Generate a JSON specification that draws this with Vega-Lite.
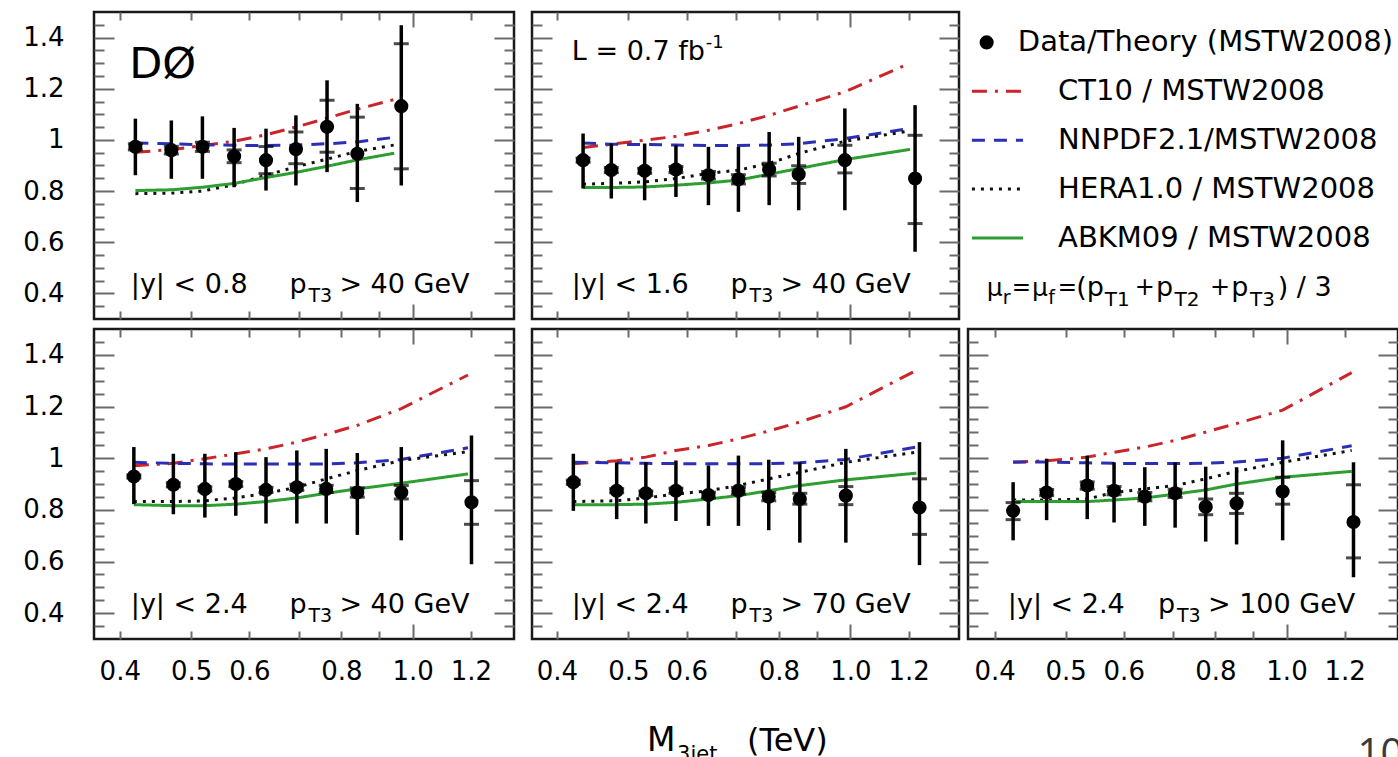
{
  "$schema": "https://vega.github.io/schema/vega-lite/v6.json",
  "background": "white",
  "padding": {"left": 21, "top": 9, "right": 0, "bottom": 0},
  "config": {
    "font": "DejaVu Sans",
    "view": {"stroke": "#1a1a1a", "strokeWidth": 2.5},
    "text": {"font": "DejaVu Sans", "color": "#000"}
  },
  "datasets": {
    "pts": [
      {"panel": 1, "m": 0.420, "r": 0.973, "tlo": 0.862, "thi": 1.083, "slo": 0.961, "shi": 0.985},
      {"panel": 1, "m": 0.470, "r": 0.960, "tlo": 0.848, "thi": 1.076, "slo": 0.945, "shi": 0.975},
      {"panel": 1, "m": 0.518, "r": 0.973, "tlo": 0.848, "thi": 1.092, "slo": 0.955, "shi": 0.991},
      {"panel": 1, "m": 0.572, "r": 0.936, "tlo": 0.815, "thi": 1.047, "slo": 0.911, "shi": 0.961},
      {"panel": 1, "m": 0.632, "r": 0.921, "tlo": 0.802, "thi": 1.044, "slo": 0.868, "shi": 0.974},
      {"panel": 1, "m": 0.694, "r": 0.964, "tlo": 0.822, "thi": 1.096, "slo": 0.907, "shi": 1.031},
      {"panel": 1, "m": 0.765, "r": 1.051, "tlo": 0.874, "thi": 1.233, "slo": 0.952, "shi": 1.155},
      {"panel": 1, "m": 0.841, "r": 0.946, "tlo": 0.757, "thi": 1.141, "slo": 0.810, "shi": 1.089},
      {"panel": 1, "m": 0.965, "r": 1.132, "tlo": 0.822, "thi": 1.448, "slo": 0.887, "shi": 1.376},

      {"panel": 2, "m": 0.434, "r": 0.921, "tlo": 0.810, "thi": 1.025, "slo": 0.913, "shi": 0.929},
      {"panel": 2, "m": 0.474, "r": 0.882, "tlo": 0.771, "thi": 0.986, "slo": 0.872, "shi": 0.892},
      {"panel": 2, "m": 0.526, "r": 0.879, "tlo": 0.764, "thi": 0.986, "slo": 0.869, "shi": 0.889},
      {"panel": 2, "m": 0.580, "r": 0.884, "tlo": 0.777, "thi": 0.979, "slo": 0.872, "shi": 0.896},
      {"panel": 2, "m": 0.642, "r": 0.862, "tlo": 0.745, "thi": 0.973, "slo": 0.847, "shi": 0.877},
      {"panel": 2, "m": 0.705, "r": 0.846, "tlo": 0.719, "thi": 0.973, "slo": 0.828, "shi": 0.864},
      {"panel": 2, "m": 0.776, "r": 0.884, "tlo": 0.745, "thi": 1.031, "slo": 0.859, "shi": 0.909},
      {"panel": 2, "m": 0.851, "r": 0.866, "tlo": 0.725, "thi": 1.012, "slo": 0.830, "shi": 0.899},
      {"panel": 2, "m": 0.983, "r": 0.921, "tlo": 0.725, "thi": 1.123, "slo": 0.871, "shi": 0.979},
      {"panel": 2, "m": 1.224, "r": 0.849, "tlo": 0.563, "thi": 1.136, "slo": 0.673, "shi": 1.018},

      {"panel": 3, "m": 0.418, "r": 0.929, "tlo": 0.822, "thi": 1.043, "slo": 0.923, "shi": 0.935},
      {"panel": 3, "m": 0.473, "r": 0.897, "tlo": 0.783, "thi": 1.017, "slo": 0.889, "shi": 0.905},
      {"panel": 3, "m": 0.522, "r": 0.881, "tlo": 0.770, "thi": 1.017, "slo": 0.873, "shi": 0.889},
      {"panel": 3, "m": 0.575, "r": 0.900, "tlo": 0.777, "thi": 1.023, "slo": 0.890, "shi": 0.910},
      {"panel": 3, "m": 0.632, "r": 0.877, "tlo": 0.747, "thi": 1.004, "slo": 0.867, "shi": 0.887},
      {"panel": 3, "m": 0.696, "r": 0.887, "tlo": 0.747, "thi": 1.030, "slo": 0.875, "shi": 0.899},
      {"panel": 3, "m": 0.763, "r": 0.881, "tlo": 0.747, "thi": 1.036, "slo": 0.867, "shi": 0.895},
      {"panel": 3, "m": 0.841, "r": 0.867, "tlo": 0.703, "thi": 1.020, "slo": 0.849, "shi": 0.885},
      {"panel": 3, "m": 0.965, "r": 0.867, "tlo": 0.682, "thi": 1.043, "slo": 0.842, "shi": 0.894},
      {"panel": 3, "m": 1.202, "r": 0.829, "tlo": 0.589, "thi": 1.088, "slo": 0.744, "shi": 0.913},

      {"panel": 4, "m": 0.421, "r": 0.907, "tlo": 0.796, "thi": 1.017, "slo": 0.899, "shi": 0.915},
      {"panel": 4, "m": 0.482, "r": 0.874, "tlo": 0.764, "thi": 0.984, "slo": 0.866, "shi": 0.882},
      {"panel": 4, "m": 0.528, "r": 0.864, "tlo": 0.747, "thi": 0.984, "slo": 0.855, "shi": 0.873},
      {"panel": 4, "m": 0.580, "r": 0.874, "tlo": 0.757, "thi": 0.991, "slo": 0.864, "shi": 0.884},
      {"panel": 4, "m": 0.642, "r": 0.857, "tlo": 0.738, "thi": 0.972, "slo": 0.846, "shi": 0.868},
      {"panel": 4, "m": 0.705, "r": 0.874, "tlo": 0.738, "thi": 1.010, "slo": 0.861, "shi": 0.887},
      {"panel": 4, "m": 0.775, "r": 0.851, "tlo": 0.721, "thi": 0.994, "slo": 0.835, "shi": 0.867},
      {"panel": 4, "m": 0.854, "r": 0.842, "tlo": 0.673, "thi": 0.984, "slo": 0.822, "shi": 0.864},
      {"panel": 4, "m": 0.986, "r": 0.855, "tlo": 0.673, "thi": 1.036, "slo": 0.820, "shi": 0.890},
      {"panel": 4, "m": 1.241, "r": 0.809, "tlo": 0.586, "thi": 1.062, "slo": 0.705, "shi": 0.920},

      {"panel": 5, "m": 0.424, "r": 0.796, "tlo": 0.682, "thi": 0.907, "slo": 0.762, "shi": 0.828},
      {"panel": 5, "m": 0.471, "r": 0.867, "tlo": 0.760, "thi": 0.998, "slo": 0.855, "shi": 0.879},
      {"panel": 5, "m": 0.535, "r": 0.894, "tlo": 0.764, "thi": 1.010, "slo": 0.880, "shi": 0.908},
      {"panel": 5, "m": 0.582, "r": 0.874, "tlo": 0.751, "thi": 0.984, "slo": 0.858, "shi": 0.890},
      {"panel": 5, "m": 0.641, "r": 0.851, "tlo": 0.738, "thi": 0.965, "slo": 0.835, "shi": 0.867},
      {"panel": 5, "m": 0.705, "r": 0.864, "tlo": 0.731, "thi": 0.984, "slo": 0.848, "shi": 0.880},
      {"panel": 5, "m": 0.776, "r": 0.812, "tlo": 0.677, "thi": 0.967, "slo": 0.781, "shi": 0.842},
      {"panel": 5, "m": 0.855, "r": 0.825, "tlo": 0.666, "thi": 0.965, "slo": 0.786, "shi": 0.864},
      {"panel": 5, "m": 0.988, "r": 0.871, "tlo": 0.682, "thi": 1.069, "slo": 0.822, "shi": 0.926},
      {"panel": 5, "m": 1.234, "r": 0.753, "tlo": 0.539, "thi": 0.984, "slo": 0.614, "shi": 0.897}
    ],
    "th": [
      {"panel": 1, "pdf": "CT10", "m": 0.420, "r": 0.952},
      {"panel": 1, "pdf": "CT10", "m": 0.470, "r": 0.962},
      {"panel": 1, "pdf": "CT10", "m": 0.518, "r": 0.978},
      {"panel": 1, "pdf": "CT10", "m": 0.572, "r": 0.995},
      {"panel": 1, "pdf": "CT10", "m": 0.632, "r": 1.020},
      {"panel": 1, "pdf": "CT10", "m": 0.694, "r": 1.050},
      {"panel": 1, "pdf": "CT10", "m": 0.765, "r": 1.085},
      {"panel": 1, "pdf": "CT10", "m": 0.841, "r": 1.120},
      {"panel": 1, "pdf": "CT10", "m": 0.944, "r": 1.158},
      {"panel": 1, "pdf": "NNPDF2.1", "m": 0.420, "r": 0.988},
      {"panel": 1, "pdf": "NNPDF2.1", "m": 0.470, "r": 0.985},
      {"panel": 1, "pdf": "NNPDF2.1", "m": 0.518, "r": 0.981},
      {"panel": 1, "pdf": "NNPDF2.1", "m": 0.572, "r": 0.979},
      {"panel": 1, "pdf": "NNPDF2.1", "m": 0.632, "r": 0.978},
      {"panel": 1, "pdf": "NNPDF2.1", "m": 0.694, "r": 0.980},
      {"panel": 1, "pdf": "NNPDF2.1", "m": 0.765, "r": 0.985},
      {"panel": 1, "pdf": "NNPDF2.1", "m": 0.841, "r": 0.992},
      {"panel": 1, "pdf": "NNPDF2.1", "m": 0.944, "r": 1.010},
      {"panel": 1, "pdf": "HERA1.0", "m": 0.420, "r": 0.790},
      {"panel": 1, "pdf": "HERA1.0", "m": 0.470, "r": 0.792},
      {"panel": 1, "pdf": "HERA1.0", "m": 0.518, "r": 0.800},
      {"panel": 1, "pdf": "HERA1.0", "m": 0.572, "r": 0.825},
      {"panel": 1, "pdf": "HERA1.0", "m": 0.632, "r": 0.862},
      {"panel": 1, "pdf": "HERA1.0", "m": 0.694, "r": 0.895},
      {"panel": 1, "pdf": "HERA1.0", "m": 0.765, "r": 0.925},
      {"panel": 1, "pdf": "HERA1.0", "m": 0.841, "r": 0.955},
      {"panel": 1, "pdf": "HERA1.0", "m": 0.944, "r": 0.980},
      {"panel": 1, "pdf": "ABKM09", "m": 0.420, "r": 0.802},
      {"panel": 1, "pdf": "ABKM09", "m": 0.470, "r": 0.805},
      {"panel": 1, "pdf": "ABKM09", "m": 0.518, "r": 0.815},
      {"panel": 1, "pdf": "ABKM09", "m": 0.572, "r": 0.830},
      {"panel": 1, "pdf": "ABKM09", "m": 0.632, "r": 0.853},
      {"panel": 1, "pdf": "ABKM09", "m": 0.694, "r": 0.873},
      {"panel": 1, "pdf": "ABKM09", "m": 0.765, "r": 0.897},
      {"panel": 1, "pdf": "ABKM09", "m": 0.841, "r": 0.922},
      {"panel": 1, "pdf": "ABKM09", "m": 0.944, "r": 0.948},

      {"panel": 2, "pdf": "CT10", "m": 0.434, "r": 0.970},
      {"panel": 2, "pdf": "CT10", "m": 0.474, "r": 0.983},
      {"panel": 2, "pdf": "CT10", "m": 0.526, "r": 0.999},
      {"panel": 2, "pdf": "CT10", "m": 0.580, "r": 1.014},
      {"panel": 2, "pdf": "CT10", "m": 0.642, "r": 1.038},
      {"panel": 2, "pdf": "CT10", "m": 0.705, "r": 1.064},
      {"panel": 2, "pdf": "CT10", "m": 0.776, "r": 1.096},
      {"panel": 2, "pdf": "CT10", "m": 0.851, "r": 1.132},
      {"panel": 2, "pdf": "CT10", "m": 0.983, "r": 1.188},
      {"panel": 2, "pdf": "CT10", "m": 1.205, "r": 1.300},
      {"panel": 2, "pdf": "NNPDF2.1", "m": 0.434, "r": 0.988},
      {"panel": 2, "pdf": "NNPDF2.1", "m": 0.474, "r": 0.983},
      {"panel": 2, "pdf": "NNPDF2.1", "m": 0.526, "r": 0.982},
      {"panel": 2, "pdf": "NNPDF2.1", "m": 0.580, "r": 0.980},
      {"panel": 2, "pdf": "NNPDF2.1", "m": 0.642, "r": 0.978},
      {"panel": 2, "pdf": "NNPDF2.1", "m": 0.705, "r": 0.978},
      {"panel": 2, "pdf": "NNPDF2.1", "m": 0.776, "r": 0.980},
      {"panel": 2, "pdf": "NNPDF2.1", "m": 0.851, "r": 0.985},
      {"panel": 2, "pdf": "NNPDF2.1", "m": 0.983, "r": 1.005},
      {"panel": 2, "pdf": "NNPDF2.1", "m": 1.205, "r": 1.045},
      {"panel": 2, "pdf": "HERA1.0", "m": 0.434, "r": 0.827},
      {"panel": 2, "pdf": "HERA1.0", "m": 0.474, "r": 0.830},
      {"panel": 2, "pdf": "HERA1.0", "m": 0.526, "r": 0.836},
      {"panel": 2, "pdf": "HERA1.0", "m": 0.580, "r": 0.849},
      {"panel": 2, "pdf": "HERA1.0", "m": 0.642, "r": 0.869},
      {"panel": 2, "pdf": "HERA1.0", "m": 0.705, "r": 0.882},
      {"panel": 2, "pdf": "HERA1.0", "m": 0.776, "r": 0.908},
      {"panel": 2, "pdf": "HERA1.0", "m": 0.851, "r": 0.947},
      {"panel": 2, "pdf": "HERA1.0", "m": 0.983, "r": 0.995},
      {"panel": 2, "pdf": "HERA1.0", "m": 1.205, "r": 1.035},
      {"panel": 2, "pdf": "ABKM09", "m": 0.434, "r": 0.814},
      {"panel": 2, "pdf": "ABKM09", "m": 0.474, "r": 0.814},
      {"panel": 2, "pdf": "ABKM09", "m": 0.526, "r": 0.816},
      {"panel": 2, "pdf": "ABKM09", "m": 0.580, "r": 0.823},
      {"panel": 2, "pdf": "ABKM09", "m": 0.642, "r": 0.832},
      {"panel": 2, "pdf": "ABKM09", "m": 0.705, "r": 0.843},
      {"panel": 2, "pdf": "ABKM09", "m": 0.776, "r": 0.866},
      {"panel": 2, "pdf": "ABKM09", "m": 0.851, "r": 0.888},
      {"panel": 2, "pdf": "ABKM09", "m": 0.983, "r": 0.923},
      {"panel": 2, "pdf": "ABKM09", "m": 1.205, "r": 0.963},

      {"panel": 3, "pdf": "CT10", "m": 0.418, "r": 0.971},
      {"panel": 3, "pdf": "CT10", "m": 0.473, "r": 0.980},
      {"panel": 3, "pdf": "CT10", "m": 0.522, "r": 0.998},
      {"panel": 3, "pdf": "CT10", "m": 0.575, "r": 1.017},
      {"panel": 3, "pdf": "CT10", "m": 0.632, "r": 1.036},
      {"panel": 3, "pdf": "CT10", "m": 0.696, "r": 1.062},
      {"panel": 3, "pdf": "CT10", "m": 0.763, "r": 1.092},
      {"panel": 3, "pdf": "CT10", "m": 0.841, "r": 1.127},
      {"panel": 3, "pdf": "CT10", "m": 0.965, "r": 1.192},
      {"panel": 3, "pdf": "CT10", "m": 1.189, "r": 1.322},
      {"panel": 3, "pdf": "NNPDF2.1", "m": 0.418, "r": 0.984},
      {"panel": 3, "pdf": "NNPDF2.1", "m": 0.473, "r": 0.980},
      {"panel": 3, "pdf": "NNPDF2.1", "m": 0.522, "r": 0.978},
      {"panel": 3, "pdf": "NNPDF2.1", "m": 0.575, "r": 0.977},
      {"panel": 3, "pdf": "NNPDF2.1", "m": 0.632, "r": 0.977},
      {"panel": 3, "pdf": "NNPDF2.1", "m": 0.696, "r": 0.977},
      {"panel": 3, "pdf": "NNPDF2.1", "m": 0.763, "r": 0.978},
      {"panel": 3, "pdf": "NNPDF2.1", "m": 0.841, "r": 0.982},
      {"panel": 3, "pdf": "NNPDF2.1", "m": 0.965, "r": 0.995},
      {"panel": 3, "pdf": "NNPDF2.1", "m": 1.189, "r": 1.040},
      {"panel": 3, "pdf": "HERA1.0", "m": 0.418, "r": 0.832},
      {"panel": 3, "pdf": "HERA1.0", "m": 0.473, "r": 0.832},
      {"panel": 3, "pdf": "HERA1.0", "m": 0.522, "r": 0.835},
      {"panel": 3, "pdf": "HERA1.0", "m": 0.575, "r": 0.846},
      {"panel": 3, "pdf": "HERA1.0", "m": 0.632, "r": 0.864},
      {"panel": 3, "pdf": "HERA1.0", "m": 0.696, "r": 0.887},
      {"panel": 3, "pdf": "HERA1.0", "m": 0.763, "r": 0.920},
      {"panel": 3, "pdf": "HERA1.0", "m": 0.841, "r": 0.952},
      {"panel": 3, "pdf": "HERA1.0", "m": 0.965, "r": 0.991},
      {"panel": 3, "pdf": "HERA1.0", "m": 1.189, "r": 1.025},
      {"panel": 3, "pdf": "ABKM09", "m": 0.418, "r": 0.820},
      {"panel": 3, "pdf": "ABKM09", "m": 0.473, "r": 0.816},
      {"panel": 3, "pdf": "ABKM09", "m": 0.522, "r": 0.816},
      {"panel": 3, "pdf": "ABKM09", "m": 0.575, "r": 0.822},
      {"panel": 3, "pdf": "ABKM09", "m": 0.632, "r": 0.832},
      {"panel": 3, "pdf": "ABKM09", "m": 0.696, "r": 0.846},
      {"panel": 3, "pdf": "ABKM09", "m": 0.763, "r": 0.864},
      {"panel": 3, "pdf": "ABKM09", "m": 0.841, "r": 0.881},
      {"panel": 3, "pdf": "ABKM09", "m": 0.965, "r": 0.903},
      {"panel": 3, "pdf": "ABKM09", "m": 1.189, "r": 0.939},

      {"panel": 4, "pdf": "CT10", "m": 0.421, "r": 0.978},
      {"panel": 4, "pdf": "CT10", "m": 0.482, "r": 0.990},
      {"panel": 4, "pdf": "CT10", "m": 0.528, "r": 1.004},
      {"panel": 4, "pdf": "CT10", "m": 0.580, "r": 1.030},
      {"panel": 4, "pdf": "CT10", "m": 0.642, "r": 1.049},
      {"panel": 4, "pdf": "CT10", "m": 0.705, "r": 1.075},
      {"panel": 4, "pdf": "CT10", "m": 0.775, "r": 1.105},
      {"panel": 4, "pdf": "CT10", "m": 0.854, "r": 1.140},
      {"panel": 4, "pdf": "CT10", "m": 0.986, "r": 1.199},
      {"panel": 4, "pdf": "CT10", "m": 1.229, "r": 1.340},
      {"panel": 4, "pdf": "NNPDF2.1", "m": 0.421, "r": 0.984},
      {"panel": 4, "pdf": "NNPDF2.1", "m": 0.482, "r": 0.982},
      {"panel": 4, "pdf": "NNPDF2.1", "m": 0.528, "r": 0.980},
      {"panel": 4, "pdf": "NNPDF2.1", "m": 0.580, "r": 0.979},
      {"panel": 4, "pdf": "NNPDF2.1", "m": 0.642, "r": 0.978},
      {"panel": 4, "pdf": "NNPDF2.1", "m": 0.705, "r": 0.978},
      {"panel": 4, "pdf": "NNPDF2.1", "m": 0.775, "r": 0.979},
      {"panel": 4, "pdf": "NNPDF2.1", "m": 0.854, "r": 0.982},
      {"panel": 4, "pdf": "NNPDF2.1", "m": 0.986, "r": 0.995},
      {"panel": 4, "pdf": "NNPDF2.1", "m": 1.229, "r": 1.043},
      {"panel": 4, "pdf": "HERA1.0", "m": 0.421, "r": 0.832},
      {"panel": 4, "pdf": "HERA1.0", "m": 0.482, "r": 0.835},
      {"panel": 4, "pdf": "HERA1.0", "m": 0.528, "r": 0.846},
      {"panel": 4, "pdf": "HERA1.0", "m": 0.580, "r": 0.861},
      {"panel": 4, "pdf": "HERA1.0", "m": 0.642, "r": 0.874},
      {"panel": 4, "pdf": "HERA1.0", "m": 0.705, "r": 0.894},
      {"panel": 4, "pdf": "HERA1.0", "m": 0.775, "r": 0.920},
      {"panel": 4, "pdf": "HERA1.0", "m": 0.854, "r": 0.945},
      {"panel": 4, "pdf": "HERA1.0", "m": 0.986, "r": 0.984},
      {"panel": 4, "pdf": "HERA1.0", "m": 1.229, "r": 1.023},
      {"panel": 4, "pdf": "ABKM09", "m": 0.421, "r": 0.820},
      {"panel": 4, "pdf": "ABKM09", "m": 0.482, "r": 0.820},
      {"panel": 4, "pdf": "ABKM09", "m": 0.528, "r": 0.822},
      {"panel": 4, "pdf": "ABKM09", "m": 0.580, "r": 0.829},
      {"panel": 4, "pdf": "ABKM09", "m": 0.642, "r": 0.842},
      {"panel": 4, "pdf": "ABKM09", "m": 0.705, "r": 0.855},
      {"panel": 4, "pdf": "ABKM09", "m": 0.775, "r": 0.874},
      {"panel": 4, "pdf": "ABKM09", "m": 0.854, "r": 0.894},
      {"panel": 4, "pdf": "ABKM09", "m": 0.986, "r": 0.916},
      {"panel": 4, "pdf": "ABKM09", "m": 1.229, "r": 0.942},

      {"panel": 5, "pdf": "CT10", "m": 0.424, "r": 0.984},
      {"panel": 5, "pdf": "CT10", "m": 0.471, "r": 0.990},
      {"panel": 5, "pdf": "CT10", "m": 0.535, "r": 1.004},
      {"panel": 5, "pdf": "CT10", "m": 0.582, "r": 1.023},
      {"panel": 5, "pdf": "CT10", "m": 0.641, "r": 1.043},
      {"panel": 5, "pdf": "CT10", "m": 0.705, "r": 1.069},
      {"panel": 5, "pdf": "CT10", "m": 0.776, "r": 1.101},
      {"panel": 5, "pdf": "CT10", "m": 0.855, "r": 1.134},
      {"panel": 5, "pdf": "CT10", "m": 0.988, "r": 1.186},
      {"panel": 5, "pdf": "CT10", "m": 1.227, "r": 1.331},
      {"panel": 5, "pdf": "NNPDF2.1", "m": 0.424, "r": 0.985},
      {"panel": 5, "pdf": "NNPDF2.1", "m": 0.471, "r": 0.985},
      {"panel": 5, "pdf": "NNPDF2.1", "m": 0.535, "r": 0.982},
      {"panel": 5, "pdf": "NNPDF2.1", "m": 0.582, "r": 0.980},
      {"panel": 5, "pdf": "NNPDF2.1", "m": 0.641, "r": 0.979},
      {"panel": 5, "pdf": "NNPDF2.1", "m": 0.705, "r": 0.979},
      {"panel": 5, "pdf": "NNPDF2.1", "m": 0.776, "r": 0.980},
      {"panel": 5, "pdf": "NNPDF2.1", "m": 0.855, "r": 0.985},
      {"panel": 5, "pdf": "NNPDF2.1", "m": 0.988, "r": 1.000},
      {"panel": 5, "pdf": "NNPDF2.1", "m": 1.227, "r": 1.048},
      {"panel": 5, "pdf": "HERA1.0", "m": 0.424, "r": 0.838},
      {"panel": 5, "pdf": "HERA1.0", "m": 0.471, "r": 0.838},
      {"panel": 5, "pdf": "HERA1.0", "m": 0.535, "r": 0.842},
      {"panel": 5, "pdf": "HERA1.0", "m": 0.582, "r": 0.867},
      {"panel": 5, "pdf": "HERA1.0", "m": 0.641, "r": 0.881},
      {"panel": 5, "pdf": "HERA1.0", "m": 0.705, "r": 0.894},
      {"panel": 5, "pdf": "HERA1.0", "m": 0.776, "r": 0.920},
      {"panel": 5, "pdf": "HERA1.0", "m": 0.855, "r": 0.949},
      {"panel": 5, "pdf": "HERA1.0", "m": 0.988, "r": 0.984},
      {"panel": 5, "pdf": "HERA1.0", "m": 1.227, "r": 1.030},
      {"panel": 5, "pdf": "ABKM09", "m": 0.424, "r": 0.832},
      {"panel": 5, "pdf": "ABKM09", "m": 0.471, "r": 0.832},
      {"panel": 5, "pdf": "ABKM09", "m": 0.535, "r": 0.832},
      {"panel": 5, "pdf": "ABKM09", "m": 0.582, "r": 0.838},
      {"panel": 5, "pdf": "ABKM09", "m": 0.641, "r": 0.846},
      {"panel": 5, "pdf": "ABKM09", "m": 0.705, "r": 0.861},
      {"panel": 5, "pdf": "ABKM09", "m": 0.776, "r": 0.877},
      {"panel": 5, "pdf": "ABKM09", "m": 0.855, "r": 0.900},
      {"panel": 5, "pdf": "ABKM09", "m": 0.988, "r": 0.926},
      {"panel": 5, "pdf": "ABKM09", "m": 1.227, "r": 0.949}
    ],
    "cuts": [
      {"panel": 1, "rap": "|y| < 0.8", "pt": "> 40 GeV"},
      {"panel": 2, "rap": "|y| < 1.6", "pt": "> 40 GeV"},
      {"panel": 3, "rap": "|y| < 2.4", "pt": "> 40 GeV"},
      {"panel": 4, "rap": "|y| < 2.4", "pt": "> 70 GeV"},
      {"panel": 5, "rap": "|y| < 2.4", "pt": "> 100 GeV"}
    ],
    "key": [
      {"entry": "Data/Theory (MSTW2008)", "pdf": "Data", "rank": 0},
      {"entry": "CT10 / MSTW2008", "pdf": "CT10", "rank": 1},
      {"entry": "NNPDF2.1/MSTW2008", "pdf": "NNPDF2.1", "rank": 2},
      {"entry": "HERA1.0 / MSTW2008", "pdf": "HERA1.0", "rank": 3},
      {"entry": "ABKM09 / MSTW2008", "pdf": "ABKM09", "rank": 4},
      {"entry": "scales", "pdf": "scales", "rank": 5}
    ]
  },
  "vconcat": [
    {
      "spacing": 12,
      "hconcat": [
        {
          "width": 420, "height": 307,
          "layer": [
            {"data": {"name": "th"}, "transform": [{"filter": "datum.panel == 1"}],
             "mark": {"type": "line", "strokeWidth": 3, "strokeCap": "butt"},
             "encoding": {
               "x": {"field": "m", "type": "quantitative", "scale": {"type": "log", "domain": [0.369, 1.373], "nice": false},
                     "axis": {"orient": "top", "values": [0.4, 0.5, 0.6, 0.7, 0.8, 0.9, 1, 1.2], "labels": false, "domain": false, "grid": false, "title": null, "tickColor": "#6b6b6b", "tickWidth": 2, "tickSize": {"condition": {"test": "datum.value == 1", "value": -15}, "value": -8}}},
               "y": {"field": "r", "type": "quantitative", "scale": {"domain": [0.3, 1.5], "nice": false, "zero": false},
                     "axis": {"orient": "right", "values": [0.35, 0.4, 0.45, 0.5, 0.55, 0.6, 0.65, 0.7, 0.75, 0.8, 0.85, 0.9, 0.95, 1, 1.05, 1.1, 1.15, 1.2, 1.25, 1.3, 1.35, 1.4, 1.45], "labels": false, "domain": false, "grid": false, "title": null, "tickColor": "#6b6b6b", "tickWidth": 2, "tickSize": {"condition": {"test": "round(datum.value*100) % 20 == 0", "value": -20}, "value": -10}}},
               "color": {"field": "pdf", "type": "nominal", "scale": {"domain": ["CT10", "NNPDF2.1", "HERA1.0", "ABKM09"], "range": ["#c9252b", "#2b2fb5", "#111111", "#2e9e32"]}, "legend": null},
               "strokeDash": {"field": "pdf", "type": "nominal", "scale": {"domain": ["CT10", "NNPDF2.1", "HERA1.0", "ABKM09"], "range": [[15, 8, 3, 8], [13, 9], [3, 6], [1, 0]]}, "legend": null}
             }},
            {"data": {"name": "pts"}, "transform": [{"filter": "datum.panel == 1"}],
             "mark": {"type": "rule", "strokeWidth": 3.5, "color": "#000"},
             "encoding": {
               "x": {"field": "m", "type": "quantitative",
                     "axis": {"orient": "bottom", "values": [0.4, 0.5, 0.6, 0.7, 0.8, 0.9, 1, 1.2], "labels": false, "domain": false, "grid": false, "title": null, "tickColor": "#6b6b6b", "tickWidth": 2, "tickSize": {"condition": {"test": "datum.value == 1", "value": -15}, "value": -8}}},
               "y": {"field": "tlo", "type": "quantitative",
                     "axis": {"orient": "left", "values": [0.35, 0.4, 0.45, 0.5, 0.55, 0.6, 0.65, 0.7, 0.75, 0.8, 0.85, 0.9, 0.95, 1, 1.05, 1.1, 1.15, 1.2, 1.25, 1.3, 1.35, 1.4, 1.45], "labels": false, "domain": false, "grid": false, "title": null, "tickColor": "#6b6b6b", "tickWidth": 2, "tickSize": {"condition": {"test": "round(datum.value*100) % 20 == 0", "value": -20}, "value": -10}}},
               "y2": {"field": "thi"}
             }},
            {"data": {"name": "pts"}, "transform": [{"filter": "datum.panel == 1"}, {"fold": ["slo", "shi"], "as": ["end", "val"]}],
             "mark": {"type": "tick", "orient": "horizontal", "size": 15, "thickness": 3, "color": "#000"},
             "encoding": {"x": {"field": "m", "type": "quantitative", "axis": null}, "y": {"field": "val", "type": "quantitative", "axis": null}}},
            {"data": {"name": "pts"}, "transform": [{"filter": "datum.panel == 1"}],
             "mark": {"type": "circle", "size": 200, "opacity": 1, "color": "#000"},
             "encoding": {
               "x": {"field": "m", "type": "quantitative", "axis": null},
               "y": {"field": "r", "type": "quantitative",
                     "axis": {"orient": "left", "values": [0.4, 0.6, 0.8, 1, 1.2, 1.4], "ticks": false, "domain": false, "grid": false, "title": null, "labelExpr": "format(datum.value, '.1~f')", "labelFont": "DejaVu Sans", "labelFontSize": 26, "labelColor": "#000", "labelPadding": 30, "labelOverlap": false, "labelFlush": false}}
             }},
            {"data": {"name": "cuts"}, "transform": [{"filter": "datum.panel == 1"}],
             "layer": [
               {"mark": {"type": "text", "align": "left", "baseline": "alphabetic", "fontSize": 43, "text": "DØ"},
                "encoding": {"x": {"datum": 0.412, "axis": null}, "y": {"datum": 1.241, "axis": null}}},
               {"mark": {"type": "text", "align": "left", "baseline": "alphabetic", "fontSize": 27},
                "encoding": {"x": {"datum": 0.414, "axis": null}, "y": {"datum": 0.4, "axis": null}, "text": {"field": "rap"}}},
               {"mark": {"type": "text", "align": "left", "baseline": "alphabetic", "fontSize": 27, "text": "p"},
                "encoding": {"x": {"datum": 0.68, "axis": null}, "y": {"datum": 0.4, "axis": null}}},
               {"mark": {"type": "text", "align": "left", "baseline": "alphabetic", "fontSize": 19, "text": "T3", "dx": 19, "dy": 9},
                "encoding": {"x": {"datum": 0.68, "axis": null}, "y": {"datum": 0.4, "axis": null}}},
               {"mark": {"type": "text", "align": "left", "baseline": "alphabetic", "fontSize": 27, "dx": 50},
                "encoding": {"x": {"datum": 0.68, "axis": null}, "y": {"datum": 0.4, "axis": null}, "text": {"field": "pt"}}}
             ]}
          ],
          "resolve": {"axis": {"x": "independent", "y": "independent"}}
        },
        {
          "spacing": 3,
          "hconcat": [
            {
              "width": 427, "height": 307,
              "layer": [
                {"data": {"name": "th"}, "transform": [{"filter": "datum.panel == 2"}],
                 "mark": {"type": "line", "strokeWidth": 3, "strokeCap": "butt"},
                 "encoding": {
                   "x": {"field": "m", "type": "quantitative", "scale": {"type": "log", "domain": [0.37, 1.404], "nice": false},
                         "axis": {"orient": "top", "values": [0.4, 0.5, 0.6, 0.7, 0.8, 0.9, 1, 1.2], "labels": false, "domain": false, "grid": false, "title": null, "tickColor": "#6b6b6b", "tickWidth": 2, "tickSize": {"condition": {"test": "datum.value == 1", "value": -15}, "value": -8}}},
                   "y": {"field": "r", "type": "quantitative", "scale": {"domain": [0.3, 1.5], "nice": false, "zero": false},
                         "axis": {"orient": "right", "values": [0.35, 0.4, 0.45, 0.5, 0.55, 0.6, 0.65, 0.7, 0.75, 0.8, 0.85, 0.9, 0.95, 1, 1.05, 1.1, 1.15, 1.2, 1.25, 1.3, 1.35, 1.4, 1.45], "labels": false, "domain": false, "grid": false, "title": null, "tickColor": "#6b6b6b", "tickWidth": 2, "tickSize": {"condition": {"test": "round(datum.value*100) % 20 == 0", "value": -20}, "value": -10}}},
                   "color": {"field": "pdf", "type": "nominal", "scale": {"domain": ["CT10", "NNPDF2.1", "HERA1.0", "ABKM09"], "range": ["#c9252b", "#2b2fb5", "#111111", "#2e9e32"]}, "legend": null},
                   "strokeDash": {"field": "pdf", "type": "nominal", "scale": {"domain": ["CT10", "NNPDF2.1", "HERA1.0", "ABKM09"], "range": [[15, 8, 3, 8], [13, 9], [3, 6], [1, 0]]}, "legend": null}
                 }},
                {"data": {"name": "pts"}, "transform": [{"filter": "datum.panel == 2"}],
                 "mark": {"type": "rule", "strokeWidth": 3.5, "color": "#000"},
                 "encoding": {
                   "x": {"field": "m", "type": "quantitative",
                         "axis": {"orient": "bottom", "values": [0.4, 0.5, 0.6, 0.7, 0.8, 0.9, 1, 1.2], "labels": false, "domain": false, "grid": false, "title": null, "tickColor": "#6b6b6b", "tickWidth": 2, "tickSize": {"condition": {"test": "datum.value == 1", "value": -15}, "value": -8}}},
                   "y": {"field": "tlo", "type": "quantitative",
                         "axis": {"orient": "left", "values": [0.35, 0.4, 0.45, 0.5, 0.55, 0.6, 0.65, 0.7, 0.75, 0.8, 0.85, 0.9, 0.95, 1, 1.05, 1.1, 1.15, 1.2, 1.25, 1.3, 1.35, 1.4, 1.45], "labels": false, "domain": false, "grid": false, "title": null, "tickColor": "#6b6b6b", "tickWidth": 2, "tickSize": {"condition": {"test": "round(datum.value*100) % 20 == 0", "value": -20}, "value": -10}}},
                   "y2": {"field": "thi"}
                 }},
                {"data": {"name": "pts"}, "transform": [{"filter": "datum.panel == 2"}, {"fold": ["slo", "shi"], "as": ["end", "val"]}],
                 "mark": {"type": "tick", "orient": "horizontal", "size": 15, "thickness": 3, "color": "#000"},
                 "encoding": {"x": {"field": "m", "type": "quantitative", "axis": null}, "y": {"field": "val", "type": "quantitative", "axis": null}}},
                {"data": {"name": "pts"}, "transform": [{"filter": "datum.panel == 2"}],
                 "mark": {"type": "circle", "size": 200, "opacity": 1, "color": "#000"},
                 "encoding": {"x": {"field": "m", "type": "quantitative", "axis": null}, "y": {"field": "r", "type": "quantitative", "axis": null}}},
                {"data": {"name": "cuts"}, "transform": [{"filter": "datum.panel == 2"}],
                 "layer": [
                   {"mark": {"type": "text", "align": "left", "baseline": "alphabetic", "fontSize": 27, "text": "L = 0.7 fb"},
                    "encoding": {"x": {"datum": 0.419, "axis": null}, "y": {"datum": 1.311, "axis": null}}},
                   {"mark": {"type": "text", "align": "left", "baseline": "alphabetic", "fontSize": 18, "text": "-1", "dx": 134, "dy": -12},
                    "encoding": {"x": {"datum": 0.419, "axis": null}, "y": {"datum": 1.311, "axis": null}}},
                   {"mark": {"type": "text", "align": "left", "baseline": "alphabetic", "fontSize": 27},
                    "encoding": {"x": {"datum": 0.419, "axis": null}, "y": {"datum": 0.4, "axis": null}, "text": {"field": "rap"}}},
                   {"mark": {"type": "text", "align": "left", "baseline": "alphabetic", "fontSize": 27, "text": "p"},
                    "encoding": {"x": {"datum": 0.688, "axis": null}, "y": {"datum": 0.4, "axis": null}}},
                   {"mark": {"type": "text", "align": "left", "baseline": "alphabetic", "fontSize": 19, "text": "T3", "dx": 19, "dy": 9},
                    "encoding": {"x": {"datum": 0.688, "axis": null}, "y": {"datum": 0.4, "axis": null}}},
                   {"mark": {"type": "text", "align": "left", "baseline": "alphabetic", "fontSize": 27, "dx": 50},
                    "encoding": {"x": {"datum": 0.688, "axis": null}, "y": {"datum": 0.4, "axis": null}, "text": {"field": "pt"}}}
                 ]}
              ],
              "resolve": {"axis": {"x": "independent", "y": "independent"}}
            },
            {
              "width": 433, "height": 307,
              "view": {"stroke": null},
              "data": {"name": "key"},
              "layer": [
                {"transform": [{"filter": "datum.rank >= 1 && datum.rank <= 4"}],
                 "mark": {"type": "rule", "strokeWidth": 3, "strokeCap": "butt"},
                 "encoding": {
                   "x": {"datum": 0.016, "type": "quantitative", "scale": {"domain": [0, 1], "nice": false, "zero": false}, "axis": null},
                   "x2": {"datum": 0.134},
                   "y": {"field": "rank", "type": "quantitative", "scale": {"domain": [-0.622, 5.656], "reverse": true, "nice": false, "zero": false}, "axis": null},
                   "color": {"field": "pdf", "type": "nominal", "scale": {"domain": ["CT10", "NNPDF2.1", "HERA1.0", "ABKM09"], "range": ["#c9252b", "#2b2fb5", "#111111", "#2e9e32"]}, "legend": null},
                   "strokeDash": {"field": "pdf", "type": "nominal", "scale": {"domain": ["CT10", "NNPDF2.1", "HERA1.0", "ABKM09"], "range": [[15, 8, 3, 8], [13, 9], [3, 6], [1, 0]]}, "legend": null}
                 }},
                {"transform": [{"filter": "datum.rank == 0"}],
                 "mark": {"type": "circle", "size": 200, "opacity": 1, "color": "#000"},
                 "encoding": {"x": {"datum": 0.05, "axis": null}, "y": {"field": "rank", "type": "quantitative", "axis": null}}},
                {"transform": [{"filter": "datum.rank == 0"}],
                 "mark": {"type": "text", "align": "left", "baseline": "middle", "fontSize": 29},
                 "encoding": {"x": {"datum": 0.122, "axis": null}, "y": {"field": "rank", "type": "quantitative", "axis": null}, "text": {"field": "entry"}}},
                {"transform": [{"filter": "datum.rank >= 1 && datum.rank <= 4"}],
                 "mark": {"type": "text", "align": "left", "baseline": "middle", "fontSize": 29},
                 "encoding": {"x": {"datum": 0.215, "axis": null}, "y": {"field": "rank", "type": "quantitative", "axis": null}, "text": {"field": "entry"}}},
                {"transform": [{"filter": "datum.rank == 5"}],
                 "layer": [
                   {"mark": {"type": "text", "align": "left", "baseline": "alphabetic", "fontSize": 25, "text": "μ", "dy": 9},
                    "encoding": {"x": {"datum": 0.050, "axis": null}, "y": {"field": "rank", "type": "quantitative", "axis": null}}},
                   {"mark": {"type": "text", "align": "left", "baseline": "alphabetic", "fontSize": 19, "text": "r", "dy": 17},
                    "encoding": {"x": {"datum": 0.087, "axis": null}, "y": {"field": "rank", "type": "quantitative", "axis": null}}},
                   {"mark": {"type": "text", "align": "left", "baseline": "alphabetic", "fontSize": 23, "text": "=", "dy": 8},
                    "encoding": {"x": {"datum": 0.108, "axis": null}, "y": {"field": "rank", "type": "quantitative", "axis": null}}},
                   {"mark": {"type": "text", "align": "left", "baseline": "alphabetic", "fontSize": 25, "text": "μ", "dy": 9},
                    "encoding": {"x": {"datum": 0.155, "axis": null}, "y": {"field": "rank", "type": "quantitative", "axis": null}}},
                   {"mark": {"type": "text", "align": "left", "baseline": "alphabetic", "fontSize": 19, "text": "f", "dy": 17},
                    "encoding": {"x": {"datum": 0.192, "axis": null}, "y": {"field": "rank", "type": "quantitative", "axis": null}}},
                   {"mark": {"type": "text", "align": "left", "baseline": "alphabetic", "fontSize": 23, "text": "=", "dy": 8},
                    "encoding": {"x": {"datum": 0.214, "axis": null}, "y": {"field": "rank", "type": "quantitative", "axis": null}}},
                   {"mark": {"type": "text", "align": "left", "baseline": "alphabetic", "fontSize": 27, "text": "(p", "dy": 9},
                    "encoding": {"x": {"datum": 0.257, "axis": null}, "y": {"field": "rank", "type": "quantitative", "axis": null}}},
                   {"mark": {"type": "text", "align": "left", "baseline": "alphabetic", "fontSize": 20, "text": "T1", "dy": 19},
                    "encoding": {"x": {"datum": 0.323, "axis": null}, "y": {"field": "rank", "type": "quantitative", "axis": null}}},
                   {"mark": {"type": "text", "align": "left", "baseline": "alphabetic", "fontSize": 24, "text": "+", "dy": 8},
                    "encoding": {"x": {"datum": 0.392, "axis": null}, "y": {"field": "rank", "type": "quantitative", "axis": null}}},
                   {"mark": {"type": "text", "align": "left", "baseline": "alphabetic", "fontSize": 27, "text": "p", "dy": 9},
                    "encoding": {"x": {"datum": 0.441, "axis": null}, "y": {"field": "rank", "type": "quantitative", "axis": null}}},
                   {"mark": {"type": "text", "align": "left", "baseline": "alphabetic", "fontSize": 20, "text": "T2", "dy": 19},
                    "encoding": {"x": {"datum": 0.484, "axis": null}, "y": {"field": "rank", "type": "quantitative", "axis": null}}},
                   {"mark": {"type": "text", "align": "left", "baseline": "alphabetic", "fontSize": 24, "text": "+", "dy": 8},
                    "encoding": {"x": {"datum": 0.566, "axis": null}, "y": {"field": "rank", "type": "quantitative", "axis": null}}},
                   {"mark": {"type": "text", "align": "left", "baseline": "alphabetic", "fontSize": 27, "text": "p", "dy": 9},
                    "encoding": {"x": {"datum": 0.615, "axis": null}, "y": {"field": "rank", "type": "quantitative", "axis": null}}},
                   {"mark": {"type": "text", "align": "left", "baseline": "alphabetic", "fontSize": 20, "text": "T3", "dy": 19},
                    "encoding": {"x": {"datum": 0.658, "axis": null}, "y": {"field": "rank", "type": "quantitative", "axis": null}}},
                   {"mark": {"type": "text", "align": "left", "baseline": "alphabetic", "fontSize": 27, "text": ") / 3", "dy": 9},
                    "encoding": {"x": {"datum": 0.722, "axis": null}, "y": {"field": "rank", "type": "quantitative", "axis": null}}}
                 ]}
              ]
            }
          ]
        }
      ]
    },
    {
      "spacing": 12,
      "hconcat": [
        {
          "width": 420, "height": 310,
          "layer": [
            {"data": {"name": "th"}, "transform": [{"filter": "datum.panel == 3"}],
             "mark": {"type": "line", "strokeWidth": 3, "strokeCap": "butt"},
             "encoding": {
               "x": {"field": "m", "type": "quantitative", "scale": {"type": "log", "domain": [0.369, 1.373], "nice": false},
                     "axis": {"orient": "top", "values": [0.4, 0.5, 0.6, 0.7, 0.8, 0.9, 1, 1.2], "labels": false, "domain": false, "grid": false, "title": null, "tickColor": "#6b6b6b", "tickWidth": 2, "tickSize": {"condition": {"test": "datum.value == 1", "value": -15}, "value": -8}}},
               "y": {"field": "r", "type": "quantitative", "scale": {"domain": [0.3, 1.5], "nice": false, "zero": false},
                     "axis": {"orient": "right", "values": [0.35, 0.4, 0.45, 0.5, 0.55, 0.6, 0.65, 0.7, 0.75, 0.8, 0.85, 0.9, 0.95, 1, 1.05, 1.1, 1.15, 1.2, 1.25, 1.3, 1.35, 1.4, 1.45], "labels": false, "domain": false, "grid": false, "title": null, "tickColor": "#6b6b6b", "tickWidth": 2, "tickSize": {"condition": {"test": "round(datum.value*100) % 20 == 0", "value": -20}, "value": -10}}},
               "color": {"field": "pdf", "type": "nominal", "scale": {"domain": ["CT10", "NNPDF2.1", "HERA1.0", "ABKM09"], "range": ["#c9252b", "#2b2fb5", "#111111", "#2e9e32"]}, "legend": null},
               "strokeDash": {"field": "pdf", "type": "nominal", "scale": {"domain": ["CT10", "NNPDF2.1", "HERA1.0", "ABKM09"], "range": [[15, 8, 3, 8], [13, 9], [3, 6], [1, 0]]}, "legend": null}
             }},
            {"data": {"name": "pts"}, "transform": [{"filter": "datum.panel == 3"}],
             "mark": {"type": "rule", "strokeWidth": 3.5, "color": "#000"},
             "encoding": {
               "x": {"field": "m", "type": "quantitative",
                     "axis": {"orient": "bottom", "values": [0.4, 0.5, 0.6, 0.7, 0.8, 0.9, 1, 1.2], "labels": false, "domain": false, "grid": false, "title": null, "tickColor": "#6b6b6b", "tickWidth": 2, "tickSize": {"condition": {"test": "datum.value == 1", "value": -15}, "value": -8}}},
               "y": {"field": "tlo", "type": "quantitative",
                     "axis": {"orient": "left", "values": [0.35, 0.4, 0.45, 0.5, 0.55, 0.6, 0.65, 0.7, 0.75, 0.8, 0.85, 0.9, 0.95, 1, 1.05, 1.1, 1.15, 1.2, 1.25, 1.3, 1.35, 1.4, 1.45], "labels": false, "domain": false, "grid": false, "title": null, "tickColor": "#6b6b6b", "tickWidth": 2, "tickSize": {"condition": {"test": "round(datum.value*100) % 20 == 0", "value": -20}, "value": -10}}},
               "y2": {"field": "thi"}
             }},
            {"data": {"name": "pts"}, "transform": [{"filter": "datum.panel == 3"}, {"fold": ["slo", "shi"], "as": ["end", "val"]}],
             "mark": {"type": "tick", "orient": "horizontal", "size": 15, "thickness": 3, "color": "#000"},
             "encoding": {"x": {"field": "m", "type": "quantitative", "axis": null}, "y": {"field": "val", "type": "quantitative", "axis": null}}},
            {"data": {"name": "pts"}, "transform": [{"filter": "datum.panel == 3"}],
             "mark": {"type": "circle", "size": 200, "opacity": 1, "color": "#000"},
             "encoding": {
               "x": {"field": "m", "type": "quantitative",
                     "axis": {"orient": "bottom", "values": [0.4, 0.5, 0.6, 0.8, 1, 1.2], "ticks": false, "domain": false, "grid": false, "title": null, "labelExpr": "format(datum.value, '.1f')", "labelFont": "DejaVu Sans", "labelFontSize": 26, "labelColor": "#000", "labelPadding": 19, "labelOverlap": false, "labelFlush": false}},
               "y": {"field": "r", "type": "quantitative",
                     "axis": {"orient": "left", "values": [0.4, 0.6, 0.8, 1, 1.2, 1.4], "ticks": false, "domain": false, "grid": false, "title": null, "labelExpr": "format(datum.value, '.1~f')", "labelFont": "DejaVu Sans", "labelFontSize": 26, "labelColor": "#000", "labelPadding": 30, "labelOverlap": false, "labelFlush": false}}
             }},
            {"data": {"name": "cuts"}, "transform": [{"filter": "datum.panel == 3"}],
             "layer": [
               {"mark": {"type": "text", "align": "left", "baseline": "alphabetic", "fontSize": 27},
                "encoding": {"x": {"datum": 0.414, "axis": null}, "y": {"datum": 0.4, "axis": null}, "text": {"field": "rap"}}},
               {"mark": {"type": "text", "align": "left", "baseline": "alphabetic", "fontSize": 27, "text": "p"},
                "encoding": {"x": {"datum": 0.68, "axis": null}, "y": {"datum": 0.4, "axis": null}}},
               {"mark": {"type": "text", "align": "left", "baseline": "alphabetic", "fontSize": 19, "text": "T3", "dx": 19, "dy": 9},
                "encoding": {"x": {"datum": 0.68, "axis": null}, "y": {"datum": 0.4, "axis": null}}},
               {"mark": {"type": "text", "align": "left", "baseline": "alphabetic", "fontSize": 27, "dx": 50},
                "encoding": {"x": {"datum": 0.68, "axis": null}, "y": {"datum": 0.4, "axis": null}, "text": {"field": "pt"}}}
             ]}
          ],
          "resolve": {"axis": {"x": "independent", "y": "independent"}}
        },
        {
          "spacing": 3,
          "hconcat": [
            {
              "width": 427, "height": 310,
              "layer": [
                {"data": {"name": "th"}, "transform": [{"filter": "datum.panel == 4"}],
                 "mark": {"type": "line", "strokeWidth": 3, "strokeCap": "butt"},
                 "encoding": {
                   "x": {"field": "m", "type": "quantitative", "scale": {"type": "log", "domain": [0.37, 1.404], "nice": false},
                         "axis": {"orient": "top", "values": [0.4, 0.5, 0.6, 0.7, 0.8, 0.9, 1, 1.2], "labels": false, "domain": false, "grid": false, "title": null, "tickColor": "#6b6b6b", "tickWidth": 2, "tickSize": {"condition": {"test": "datum.value == 1", "value": -15}, "value": -8}}},
                   "y": {"field": "r", "type": "quantitative", "scale": {"domain": [0.3, 1.5], "nice": false, "zero": false},
                         "axis": {"orient": "right", "values": [0.35, 0.4, 0.45, 0.5, 0.55, 0.6, 0.65, 0.7, 0.75, 0.8, 0.85, 0.9, 0.95, 1, 1.05, 1.1, 1.15, 1.2, 1.25, 1.3, 1.35, 1.4, 1.45], "labels": false, "domain": false, "grid": false, "title": null, "tickColor": "#6b6b6b", "tickWidth": 2, "tickSize": {"condition": {"test": "round(datum.value*100) % 20 == 0", "value": -20}, "value": -10}}},
                   "color": {"field": "pdf", "type": "nominal", "scale": {"domain": ["CT10", "NNPDF2.1", "HERA1.0", "ABKM09"], "range": ["#c9252b", "#2b2fb5", "#111111", "#2e9e32"]}, "legend": null},
                   "strokeDash": {"field": "pdf", "type": "nominal", "scale": {"domain": ["CT10", "NNPDF2.1", "HERA1.0", "ABKM09"], "range": [[15, 8, 3, 8], [13, 9], [3, 6], [1, 0]]}, "legend": null}
                 }},
                {"data": {"name": "pts"}, "transform": [{"filter": "datum.panel == 4"}],
                 "mark": {"type": "rule", "strokeWidth": 3.5, "color": "#000"},
                 "encoding": {
                   "x": {"field": "m", "type": "quantitative",
                         "axis": {"orient": "bottom", "values": [0.4, 0.5, 0.6, 0.7, 0.8, 0.9, 1, 1.2], "labels": false, "domain": false, "grid": false, "title": null, "tickColor": "#6b6b6b", "tickWidth": 2, "tickSize": {"condition": {"test": "datum.value == 1", "value": -15}, "value": -8}}},
                   "y": {"field": "tlo", "type": "quantitative",
                         "axis": {"orient": "left", "values": [0.35, 0.4, 0.45, 0.5, 0.55, 0.6, 0.65, 0.7, 0.75, 0.8, 0.85, 0.9, 0.95, 1, 1.05, 1.1, 1.15, 1.2, 1.25, 1.3, 1.35, 1.4, 1.45], "labels": false, "domain": false, "grid": false, "title": null, "tickColor": "#6b6b6b", "tickWidth": 2, "tickSize": {"condition": {"test": "round(datum.value*100) % 20 == 0", "value": -20}, "value": -10}}},
                   "y2": {"field": "thi"}
                 }},
                {"data": {"name": "pts"}, "transform": [{"filter": "datum.panel == 4"}, {"fold": ["slo", "shi"], "as": ["end", "val"]}],
                 "mark": {"type": "tick", "orient": "horizontal", "size": 15, "thickness": 3, "color": "#000"},
                 "encoding": {"x": {"field": "m", "type": "quantitative", "axis": null}, "y": {"field": "val", "type": "quantitative", "axis": null}}},
                {"data": {"name": "pts"}, "transform": [{"filter": "datum.panel == 4"}],
                 "mark": {"type": "circle", "size": 200, "opacity": 1, "color": "#000"},
                 "encoding": {
                   "x": {"field": "m", "type": "quantitative",
                         "axis": {"orient": "bottom", "values": [0.4, 0.5, 0.6, 0.8, 1, 1.2], "ticks": false, "domain": false, "grid": false, "title": null, "labelExpr": "format(datum.value, '.1f')", "labelFont": "DejaVu Sans", "labelFontSize": 26, "labelColor": "#000", "labelPadding": 19, "labelOverlap": false, "labelFlush": false}},
                   "y": {"field": "r", "type": "quantitative", "axis": null}
                 }},
                {"data": {"name": "cuts"}, "transform": [{"filter": "datum.panel == 4"}],
                 "layer": [
                   {"mark": {"type": "text", "align": "left", "baseline": "alphabetic", "fontSize": 27},
                    "encoding": {"x": {"datum": 0.419, "axis": null}, "y": {"datum": 0.4, "axis": null}, "text": {"field": "rap"}}},
                   {"mark": {"type": "text", "align": "left", "baseline": "alphabetic", "fontSize": 27, "text": "p"},
                    "encoding": {"x": {"datum": 0.688, "axis": null}, "y": {"datum": 0.4, "axis": null}}},
                   {"mark": {"type": "text", "align": "left", "baseline": "alphabetic", "fontSize": 19, "text": "T3", "dx": 19, "dy": 9},
                    "encoding": {"x": {"datum": 0.688, "axis": null}, "y": {"datum": 0.4, "axis": null}}},
                   {"mark": {"type": "text", "align": "left", "baseline": "alphabetic", "fontSize": 27, "dx": 50},
                    "encoding": {"x": {"datum": 0.688, "axis": null}, "y": {"datum": 0.4, "axis": null}, "text": {"field": "pt"}}},
                   {"mark": {"type": "text", "align": "left", "baseline": "alphabetic", "fontSize": 33, "text": "M"},
                    "encoding": {"x": {"datum": 0.53, "axis": null}, "y": {"datum": -0.132, "axis": null}}},
                   {"mark": {"type": "text", "align": "left", "baseline": "alphabetic", "fontSize": 21, "text": "3jet", "dx": 30, "dy": 10},
                    "encoding": {"x": {"datum": 0.53, "axis": null}, "y": {"datum": -0.132, "axis": null}}},
                   {"mark": {"type": "text", "align": "left", "baseline": "alphabetic", "fontSize": 32, "text": "(TeV)", "dx": 100},
                    "encoding": {"x": {"datum": 0.53, "axis": null}, "y": {"datum": -0.132, "axis": null}}}
                 ]}
              ],
              "resolve": {"axis": {"x": "independent", "y": "independent"}}
            },
            {
              "width": 430, "height": 310,
              "layer": [
                {"data": {"name": "th"}, "transform": [{"filter": "datum.panel == 5"}],
                 "mark": {"type": "line", "strokeWidth": 3, "strokeCap": "butt"},
                 "encoding": {
                   "x": {"field": "m", "type": "quantitative", "scale": {"type": "log", "domain": [0.368, 1.419], "nice": false},
                         "axis": {"orient": "top", "values": [0.4, 0.5, 0.6, 0.7, 0.8, 0.9, 1, 1.2], "labels": false, "domain": false, "grid": false, "title": null, "tickColor": "#6b6b6b", "tickWidth": 2, "tickSize": {"condition": {"test": "datum.value == 1", "value": -15}, "value": -8}}},
                   "y": {"field": "r", "type": "quantitative", "scale": {"domain": [0.3, 1.5], "nice": false, "zero": false},
                         "axis": {"orient": "right", "values": [0.35, 0.4, 0.45, 0.5, 0.55, 0.6, 0.65, 0.7, 0.75, 0.8, 0.85, 0.9, 0.95, 1, 1.05, 1.1, 1.15, 1.2, 1.25, 1.3, 1.35, 1.4, 1.45], "labels": false, "domain": false, "grid": false, "title": null, "tickColor": "#6b6b6b", "tickWidth": 2, "tickSize": {"condition": {"test": "round(datum.value*100) % 20 == 0", "value": -20}, "value": -10}}},
                   "color": {"field": "pdf", "type": "nominal", "scale": {"domain": ["CT10", "NNPDF2.1", "HERA1.0", "ABKM09"], "range": ["#c9252b", "#2b2fb5", "#111111", "#2e9e32"]}, "legend": null},
                   "strokeDash": {"field": "pdf", "type": "nominal", "scale": {"domain": ["CT10", "NNPDF2.1", "HERA1.0", "ABKM09"], "range": [[15, 8, 3, 8], [13, 9], [3, 6], [1, 0]]}, "legend": null}
                 }},
                {"data": {"name": "pts"}, "transform": [{"filter": "datum.panel == 5"}],
                 "mark": {"type": "rule", "strokeWidth": 3.5, "color": "#000"},
                 "encoding": {
                   "x": {"field": "m", "type": "quantitative",
                         "axis": {"orient": "bottom", "values": [0.4, 0.5, 0.6, 0.7, 0.8, 0.9, 1, 1.2], "labels": false, "domain": false, "grid": false, "title": null, "tickColor": "#6b6b6b", "tickWidth": 2, "tickSize": {"condition": {"test": "datum.value == 1", "value": -15}, "value": -8}}},
                   "y": {"field": "tlo", "type": "quantitative",
                         "axis": {"orient": "left", "values": [0.35, 0.4, 0.45, 0.5, 0.55, 0.6, 0.65, 0.7, 0.75, 0.8, 0.85, 0.9, 0.95, 1, 1.05, 1.1, 1.15, 1.2, 1.25, 1.3, 1.35, 1.4, 1.45], "labels": false, "domain": false, "grid": false, "title": null, "tickColor": "#6b6b6b", "tickWidth": 2, "tickSize": {"condition": {"test": "round(datum.value*100) % 20 == 0", "value": -20}, "value": -10}}},
                   "y2": {"field": "thi"}
                 }},
                {"data": {"name": "pts"}, "transform": [{"filter": "datum.panel == 5"}, {"fold": ["slo", "shi"], "as": ["end", "val"]}],
                 "mark": {"type": "tick", "orient": "horizontal", "size": 15, "thickness": 3, "color": "#000"},
                 "encoding": {"x": {"field": "m", "type": "quantitative", "axis": null}, "y": {"field": "val", "type": "quantitative", "axis": null}}},
                {"data": {"name": "pts"}, "transform": [{"filter": "datum.panel == 5"}],
                 "mark": {"type": "circle", "size": 200, "opacity": 1, "color": "#000"},
                 "encoding": {
                   "x": {"field": "m", "type": "quantitative",
                         "axis": {"orient": "bottom", "values": [0.4, 0.5, 0.6, 0.8, 1, 1.2], "ticks": false, "domain": false, "grid": false, "title": null, "labelExpr": "format(datum.value, '.1f')", "labelFont": "DejaVu Sans", "labelFontSize": 26, "labelColor": "#000", "labelPadding": 19, "labelOverlap": false, "labelFlush": false}},
                   "y": {"field": "r", "type": "quantitative", "axis": null}
                 }},
                {"data": {"name": "cuts"}, "transform": [{"filter": "datum.panel == 5"}],
                 "layer": [
                   {"mark": {"type": "text", "align": "left", "baseline": "alphabetic", "fontSize": 27},
                    "encoding": {"x": {"datum": 0.417, "axis": null}, "y": {"datum": 0.4, "axis": null}, "text": {"field": "rap"}}},
                   {"mark": {"type": "text", "align": "left", "baseline": "alphabetic", "fontSize": 27, "text": "p"},
                    "encoding": {"x": {"datum": 0.668, "axis": null}, "y": {"datum": 0.4, "axis": null}}},
                   {"mark": {"type": "text", "align": "left", "baseline": "alphabetic", "fontSize": 19, "text": "T3", "dx": 19, "dy": 9},
                    "encoding": {"x": {"datum": 0.668, "axis": null}, "y": {"datum": 0.4, "axis": null}}},
                   {"mark": {"type": "text", "align": "left", "baseline": "alphabetic", "fontSize": 27, "dx": 50},
                    "encoding": {"x": {"datum": 0.668, "axis": null}, "y": {"datum": 0.4, "axis": null}, "text": {"field": "pt"}}},
                   {"mark": {"type": "text", "align": "left", "baseline": "alphabetic", "fontSize": 40, "font": "Open Sans", "color": "#3a3a3a", "text": "10"},
                    "encoding": {"x": {"datum": 1.25, "axis": null}, "y": {"datum": -0.196, "axis": null}}}
                 ]}
              ],
              "resolve": {"axis": {"x": "independent", "y": "independent"}}
            }
          ]
        }
      ]
    }
  ],
  "spacing": 4
}
